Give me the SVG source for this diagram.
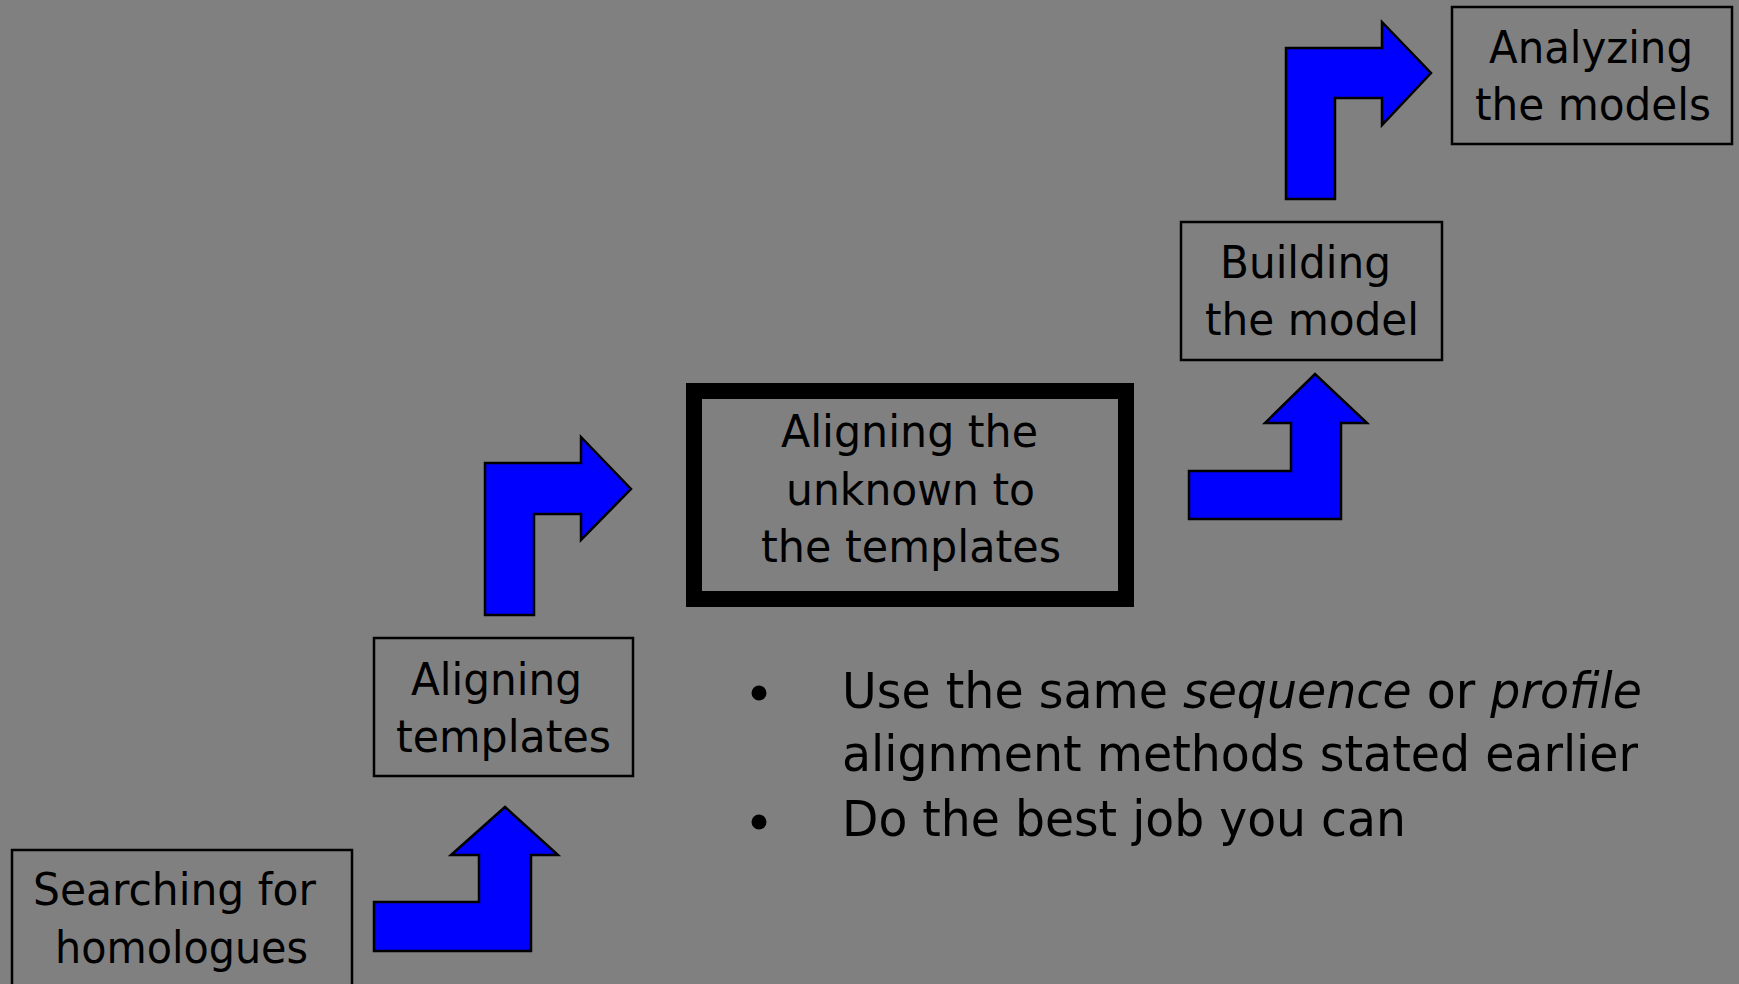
<svg xmlns="http://www.w3.org/2000/svg" width="1739" height="984" viewBox="0 0 1739 984">
<style>
.box{fill:none;stroke:#000;stroke-width:2.5}
.thick{fill:none;stroke:#000;stroke-width:16}
.arrow{fill:#0000FF;stroke:#000;stroke-width:2.5;stroke-linejoin:miter}
.t{font-family:"DejaVu Sans","Liberation Sans",sans-serif;font-size:44px;fill:#000}
.b{font-family:"DejaVu Sans","Liberation Sans",sans-serif;font-size:50px;fill:#000}
.i{font-style:italic}
</style>
<rect x="0" y="0" width="1739" height="984" fill="#808080"/>
<g id="connectors">
<polygon class="arrow" points="374,902 479,902 479,855 451,855 505,807 558,855 531,855 531,951 374,951"/>
<polygon class="arrow" points="485,615 485,463 581,463 581,437 631,489 581,540 581,514 534,514 534,615"/>
<polygon class="arrow" points="1189,471 1291,471 1291,423 1265,423 1315,374 1367,423 1341,423 1341,519 1189,519"/>
<polygon class="arrow" points="1286,199 1286,48 1382,48 1382,22 1431,73 1382,125 1382,98 1335,98 1335,199"/>
</g>
<g id="node-searching">
<rect class="box" x="12" y="850" width="340" height="150"/>
<text class="t" x="33" y="905" textLength="283" lengthAdjust="spacingAndGlyphs">Searching for</text>
<text class="t" x="55" y="963" textLength="253" lengthAdjust="spacingAndGlyphs">homologues</text>
</g>
<g id="node-aligning-templates">
<rect class="box" x="374" y="638" width="259" height="138"/>
<text class="t" x="411" y="695" textLength="171" lengthAdjust="spacingAndGlyphs">Aligning</text>
<text class="t" x="396" y="752" textLength="215" lengthAdjust="spacingAndGlyphs">templates</text>
</g>
<g id="node-aligning-unknown">
<rect class="thick" x="694" y="391" width="432" height="208"/>
<text class="t" x="781" y="447" textLength="257" lengthAdjust="spacingAndGlyphs">Aligning the</text>
<text class="t" x="786" y="505" textLength="249" lengthAdjust="spacingAndGlyphs">unknown to</text>
<text class="t" x="761" y="562" textLength="300" lengthAdjust="spacingAndGlyphs">the templates</text>
</g>
<g id="node-building">
<rect class="box" x="1181" y="222" width="261" height="138"/>
<text class="t" x="1220" y="278" textLength="171" lengthAdjust="spacingAndGlyphs">Building</text>
<text class="t" x="1205" y="335" textLength="214" lengthAdjust="spacingAndGlyphs">the model</text>
</g>
<g id="node-analyzing">
<rect class="box" x="1452" y="7" width="280" height="137"/>
<text class="t" x="1489" y="63" textLength="204" lengthAdjust="spacingAndGlyphs">Analyzing</text>
<text class="t" x="1475" y="120" textLength="236" lengthAdjust="spacingAndGlyphs">the models</text>
</g>
<g id="bullets">
<circle cx="759" cy="693" r="7.5" fill="#000"/>
<circle cx="759" cy="822" r="7.5" fill="#000"/>
<text class="b" x="842" y="708" textLength="800" lengthAdjust="spacingAndGlyphs">Use the same <tspan class="i">sequence</tspan> or <tspan class="i">profile</tspan></text>
<text class="b" x="842" y="771" textLength="796" lengthAdjust="spacingAndGlyphs">alignment methods stated earlier</text>
<text class="b" x="842" y="836" textLength="564" lengthAdjust="spacingAndGlyphs">Do the best job you can</text>
</g>
</svg>
